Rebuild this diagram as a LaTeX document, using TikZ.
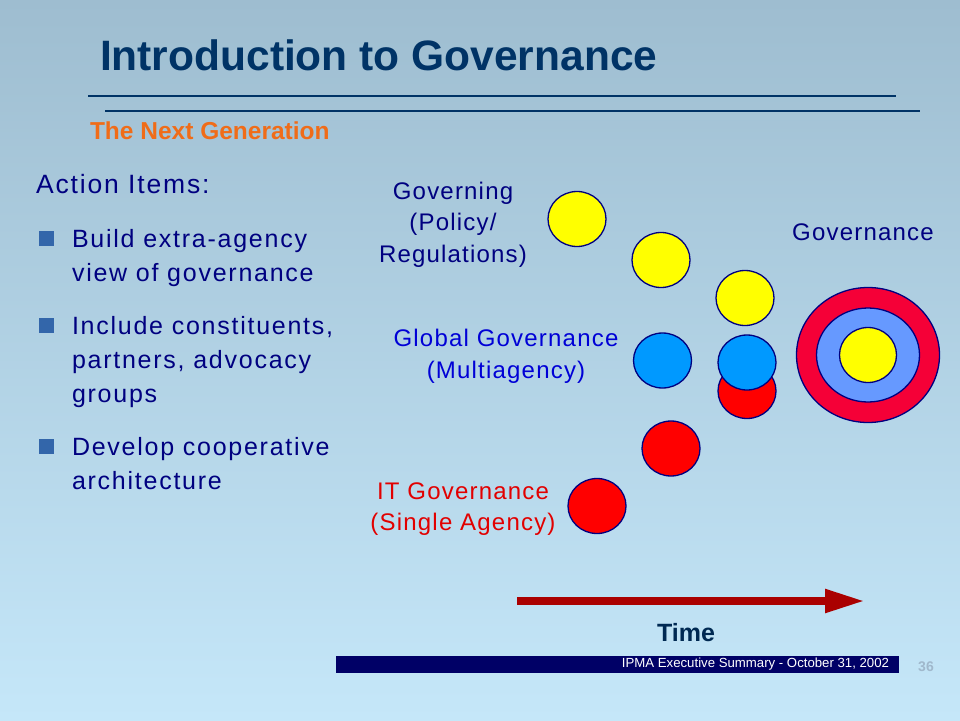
\documentclass[tikz,border=0pt]{standalone}
\usepackage{fontspec}
\setmainfont{Liberation Sans}
\newfontfamily\widefont{Liberation Sans}[LetterSpace=7]
\newfontfamily\labelfont{Liberation Sans}[LetterSpace=5]
\usetikzlibrary{arrows.meta,shapes.geometric}
\definecolor{bgtop}{RGB}{158,189,208}
\definecolor{bgbot}{RGB}{197,231,249}
\definecolor{titleblue}{RGB}{0,51,102}
\definecolor{navy}{RGB}{0,0,128}
\definecolor{orangetxt}{RGB}{240,108,24}
\definecolor{midblue}{RGB}{0,0,214}
\definecolor{redtxt}{RGB}{226,0,0}
\definecolor{bulletblue}{RGB}{51,102,170}
\definecolor{yel}{RGB}{255,255,0}
\definecolor{sky}{RGB}{0,153,255}
\definecolor{periwinkle}{RGB}{102,153,255}
\definecolor{crimson}{RGB}{245,0,55}
\definecolor{arrowred}{RGB}{170,0,0}
\definecolor{footblue}{RGB}{0,0,102}
\definecolor{pagegray}{RGB}{160,184,204}

\begin{document}
\begin{tikzpicture}[x=1pt,y=-1pt,
	every node/.style={inner sep=0pt,outer sep=0pt},
	disc/.style={ellipse,draw=navy,line width=1.3pt,minimum width=58pt,minimum height=55pt},
	bulletsq/.style={fill=bulletblue,minimum size=15pt},
	bullettxt/.style={anchor=base west,align=left,text=navy,font=\widefont\fontsize{25}{34}\selectfont},
	difflabel/.style={anchor=base,align=center,font=\labelfont\fontsize{24}{31.5}\selectfont}]
	\useasboundingbox (0,0) rectangle (960,720);
	\shade[top color=bgtop,bottom color=bgbot] (0,0) rectangle (960,720);
	% heading
	\node[anchor=base west,text=titleblue,font=\bfseries\fontsize{42.5}{48}\selectfont] (title) at (100,70) {Introduction to Governance};
	\draw[titleblue,line width=2.3pt] (88,96) -- (896,96);
	\draw[titleblue,line width=2.3pt] (105,111) -- (920,111);
	\node[anchor=base west,text=orangetxt,font=\bfseries\fontsize{24.5}{28}\selectfont] (subtitle) at (90,139.5) {The Next Generation};
	% action items
	\node[anchor=base west,text=navy,font=\widefont\fontsize{26.5}{30}\selectfont] (items) at (36,193.5) {Action Items:};
	\node[bulletsq] (sq1) at (46.5,238) {};
	\node[bullettxt] (item1) at (72,281) {Build extra-agency\\view of governance};
	\node[bulletsq] (sq2) at (46.5,325) {};
	\node[bullettxt] (item2) at (72,402) {Include constituents,\\partners, advocacy\\groups};
	\node[bulletsq] (sq3) at (46.5,446) {};
	\node[bullettxt] (item3) at (72,489) {Develop cooperative\\architecture};
	% labels
	\node[difflabel,text=navy] (lblgov) at (453,262) {Governing\\(Policy/\\Regulations)};
	\node[difflabel,text=midblue] (lblglobal) at (506,378) {Global Governance\\(Multiagency)};
	\node[difflabel,text=redtxt] (lblit) at (463,530.5) {IT Governance\\(Single Agency)};
	\node[difflabel,text=navy] (lblall) at (863,240) {Governance};
	% circles
	\node[disc,fill=yel] (y1) at (577,219) {};
	\node[disc,fill=yel] (y2) at (661,260) {};
	\node[disc,fill=yel] (y3) at (745,298) {};
	\node[disc,fill=sky] (b1) at (662.5,360.5) {};
	\node[disc,fill=red] (r3) at (747,391) {};
	\node[disc,fill=sky] (b2) at (747,362.5) {};
	\node[disc,fill=red] (r2) at (671,448.5) {};
	\node[disc,fill=red] (r1) at (597,506) {};
	% target
	\node[disc,fill=crimson,minimum width=143pt,minimum height=135pt] (outer) at (868,355) {};
	\node[disc,fill=periwinkle,minimum width=103pt,minimum height=94pt] (middle) at (868,355) {};
	\node[disc,fill=yel,minimum width=57pt,minimum height=55pt] (inner) at (868,355) {};
	% time arrow
	\coordinate (tstart) at (517,601);
	\coordinate (tend) at (865,601);
	\draw[arrowred,line width=8pt,-{Triangle[length=40pt,width=22pt]}] (tstart) -- (tend);
	\node[text=titleblue!80!black,font=\bfseries\fontsize{25}{30}\selectfont] (time) at (686,633) {Time};
	% footer
	\node[fill=footblue,minimum width=563pt,minimum height=17pt,anchor=north west] (footer) at (336,656) {};
	\node[anchor=east,text=white,font=\fontsize{13.2}{15}\selectfont] (foottxt) at (889,664.5) {IPMA Executive Summary - October 31, 2002};
	\node[text=pagegray,font=\bfseries\fontsize{14}{16}\selectfont] (page) at (926,667) {36};
\end{tikzpicture}
\end{document}
